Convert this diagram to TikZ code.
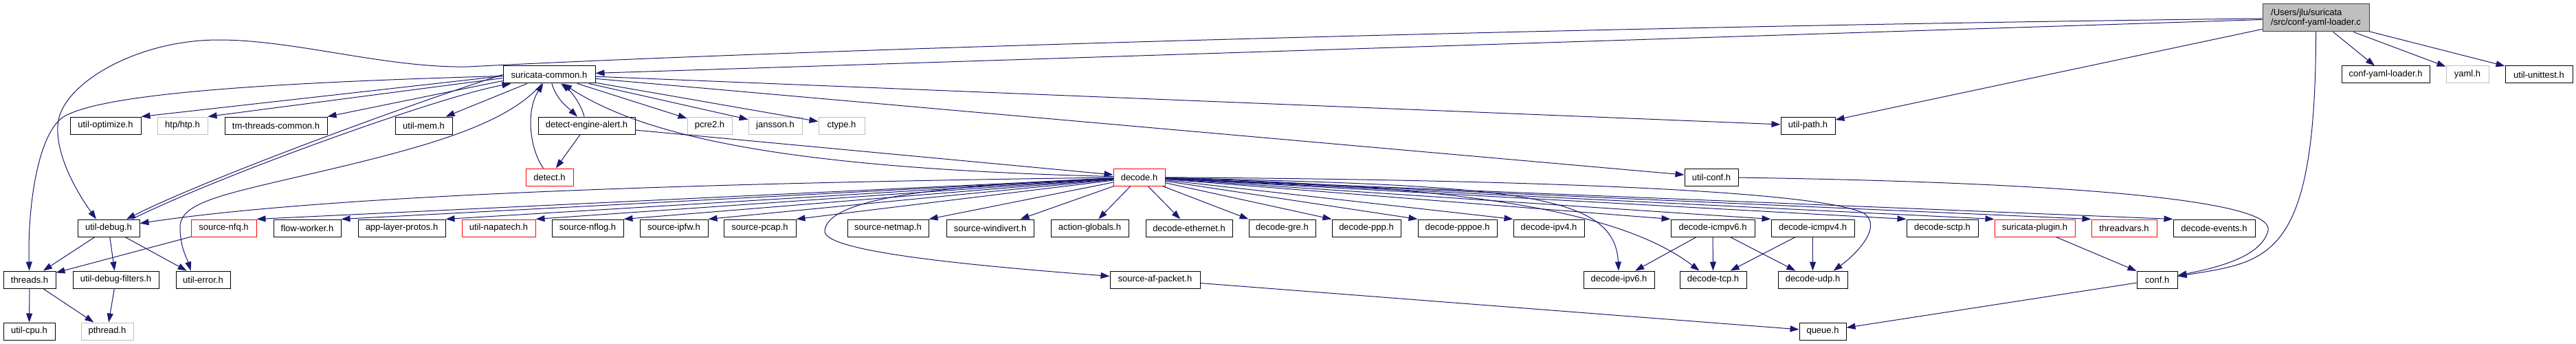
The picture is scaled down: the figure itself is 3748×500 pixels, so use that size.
\documentclass[tikz,border=0pt]{standalone}
\usepackage{fontspec}
\setmainfont{Liberation Sans}
\usetikzlibrary{arrows.meta}
\definecolor{edgec}{HTML}{191970}
\definecolor{grayb}{HTML}{BFBFBF}
\definecolor{nodeb}{HTML}{404040}
\begin{document}
\begin{tikzpicture}[x=1pt,y=-1pt,
 nd/.style={draw=black,line width=1pt,minimum height=25pt,inner sep=0pt,font=\fontsize{13}{15}\selectfont,fill=white},
 gnd/.style={nd,draw=grayb},
 rnd/.style={nd,draw=red},
 ed/.style={draw=edgec,line width=1pt,-{Triangle[length=13pt,width=9pt]}}]
\fill[white] (0,0) rectangle (3748,500);
\useasboundingbox (0,0) rectangle (3748,500);
% row 0
\node[nd,fill=grayb,draw=nodeb,minimum width=155pt,minimum height=40pt,align=left,font=\fontsize{13}{14}\selectfont] (root) at (3369.5,26) {/Users/jlu/suricata\\/src/conf-yaml-loader.c};
% row 0.5
\node[nd,minimum width=128pt] (cyl) at (3471,108.5) {conf-yaml-loader.h};
\node[gnd,minimum width=62pt] (yaml) at (3590,108.5) {yaml.h};
\node[nd,minimum width=98pt] (unit) at (3694,108.5) {util-unittest.h};
\node[nd,minimum width=134pt] (sc) at (799,108.5) {suricata-common.h};
% row 1
\node[nd,minimum width=103pt] (uopt) at (153.5,182.5) {util-optimize.h};
\node[gnd,minimum width=73pt] (htp) at (265.5,182.5) {htp/htp.h};
\node[nd,minimum width=149pt] (tmt) at (401.5,182.5) {tm-threads-common.h};
\node[nd,minimum width=83pt] (umem) at (616.5,182.5) {util-mem.h};
\node[nd,minimum width=141pt] (dea) at (853.5,182.5) {detect-engine-alert.h};
\node[gnd,minimum width=65pt] (pcre) at (1032.5,182.5) {pcre2.h};
\node[gnd,minimum width=78pt] (jans) at (1128,182.5) {jansson.h};
\node[gnd,minimum width=67pt] (ctype) at (1224.5,182.5) {ctype.h};
\node[nd,minimum width=79pt] (upath) at (2630.5,182.5) {util-path.h};
% row 2
\node[rnd,minimum width=69pt] (detect) at (799.5,257.5) {detect.h};
\node[rnd,minimum width=75pt] (decode) at (1657.5,257.5) {decode.h};
\node[nd,minimum width=78pt] (uconf) at (2490,257.5) {util-conf.h};
% row 3
\node[nd,minimum width=90pt] (udebug) at (158,331.5) {util-debug.h};
\node[rnd,minimum width=95pt] (nfq) at (325.5,331.5) {source-nfq.h};
\node[nd,minimum width=98pt] (fw) at (447,331.5) {flow-worker.h};
\node[nd,minimum width=127pt] (alp) at (584.5,331.5) {app-layer-protos.h};
\node[rnd,minimum width=107pt] (napa) at (725.5,331.5) {util-napatech.h};
\node[nd,minimum width=104pt] (nflog) at (855,331.5) {source-nflog.h};
\node[nd,minimum width=99pt] (ipfw) at (980.5,331.5) {source-ipfw.h};
\node[nd,minimum width=105pt] (pcap) at (1105.5,331.5) {source-pcap.h};
\node[nd,minimum width=118pt] (netmap) at (1292,331.5) {source-netmap.h};
\node[nd,minimum width=127pt] (windiv) at (1440.5,331.5) {source-windivert.h};
\node[nd,minimum width=113pt] (actg) at (1585.5,331.5) {action-globals.h};
\node[nd,minimum width=126pt] (eth) at (1730,331.5) {decode-ethernet.h};
\node[nd,minimum width=97pt] (gre) at (1865.5,331.5) {decode-gre.h};
\node[nd,minimum width=100pt] (ppp) at (1988,331.5) {decode-ppp.h};
\node[nd,minimum width=115pt] (pppoe) at (2120.5,331.5) {decode-pppoe.h};
\node[nd,minimum width=103pt] (ipv4) at (2253.5,331.5) {decode-ipv4.h};
\node[nd,minimum width=122pt] (icmp6) at (2492,331.5) {decode-icmpv6.h};
\node[nd,minimum width=121pt] (icmp4) at (2637.5,331.5) {decode-icmpv4.h};
\node[nd,minimum width=104pt] (sctp) at (2826,331.5) {decode-sctp.h};
\node[rnd,minimum width=117pt] (plugin) at (2960.5,331.5) {suricata-plugin.h};
\node[rnd,minimum width=95pt] (tv) at (3090.5,331.5) {threadvars.h};
\node[nd,minimum width=119pt] (events) at (3221.5,331.5) {decode-events.h};
% row 4
\node[nd,minimum width=76pt] (threads) at (43,406.5) {threads.h};
\node[nd,minimum width=125pt] (udf) at (168.5,406.5) {util-debug-filters.h};
\node[nd,minimum width=79pt] (uerr) at (295.5,406.5) {util-error.h};
\node[nd,minimum width=131pt] (afp) at (1680.5,406.5) {source-af-packet.h};
\node[nd,minimum width=103pt] (ipv6) at (2355.5,406.5) {decode-ipv6.h};
\node[nd,minimum width=97pt] (tcp) at (2492.5,406.5) {decode-tcp.h};
\node[nd,minimum width=101pt] (udp) at (2637.5,406.5) {decode-udp.h};
\node[nd,minimum width=59pt] (conf) at (3138.5,406.5) {conf.h};
% row 5
\node[nd,minimum width=75pt] (ucpu) at (42.5,481.5) {util-cpu.h};
\node[gnd,minimum width=76pt] (pthread) at (156,481.5) {pthread.h};
\node[nd,minimum width=68pt] (queue) at (2652,481.5) {queue.h};

% edges from root
\draw[ed] (root) -- (sc);
\draw[ed] (root) .. controls (2200,40) and (1100,75) .. (681,97) .. controls (560,99) and (430,58) .. (318,58) .. controls (200,58) and (95,120) .. (85,175) .. controls (78,215) and (105,270) .. ([xshift=-18pt]udebug.north);
\draw[ed] (root) -- (upath);
\draw[ed] (root) .. controls (3369.5,380) and (3300,380) .. (conf);
\draw[ed] (root) -- (cyl);
\draw[ed] (root) -- (yaml);
\draw[ed] (root) -- (unit);

% edges from suricata-common
\draw[ed] ([yshift=-2pt]sc.west) -- (uopt.north east);
\draw[ed] ([yshift=-5pt]sc.west) -- (htp.north east);
\draw[ed] ([yshift=-9pt]sc.west) -- (tmt.north east);
\draw[ed] (sc) -- (umem);
\draw[ed] (sc) -- (pcre);
\draw[ed] (sc) -- (jans);
\draw[ed] (sc) -- (ctype);
\draw[ed] (sc) -- (upath);
\draw[ed] (sc) -- (uconf);
\draw[ed] (sc) .. controls (810,145) and (825,155) .. (dea);
\draw[ed] (dea) .. controls (845,150) and (830,132) .. (sc);
\draw[ed] (sc) .. controls (400,120) and (150,135) .. (92,170) .. controls (55,195) and (40,300) .. (threads);
\draw[ed] (sc) .. controls (740,180) and (620,212) .. (506,240) .. controls (340,280) and (262,290) .. (262,330) .. controls (262,360) and (272,375) .. ([xshift=-18pt]uerr.north);
\draw[ed] (sc.west) .. controls (600,150) and (300,260) .. ([xshift=26pt]udebug.north);
\draw[ed] ([xshift=34pt]udebug.north) .. controls (320,255) and (640,140) .. ([xshift=12pt]sc.south west);

% detect cluster
\draw[ed] (dea) -- (detect);
\draw[ed] (dea) -- (decode);
\draw[ed] (detect) .. controls (770,215) and (765,160) .. (sc);

% edges from decode
\foreach \t in {nfq,fw,alp,napa,nflog,ipfw,pcap,netmap}
  \draw[ed] (decode) -- (\t.north east);
\draw[ed] (decode) -- ([xshift=-20pt]windiv.north east);
\draw[ed] (decode) -- (actg);
\draw[ed] (decode) -- (eth);
\foreach \t in {gre,ppp,pppoe,ipv4,icmp6,icmp4,sctp,plugin,tv,events}
  \draw[ed] (decode) -- (\t.north west);
\draw[ed] (decode) .. controls (1100,265) and (500,280) .. (udebug);
\draw[ed] (decode) .. controls (1150,245) and (940,200) .. (sc);
\draw[ed] (decode) .. controls (1350,270) and (1205,290) .. (1200,335) .. controls (1195,365) and (1400,385) .. (afp);
\draw[ed] (decode) .. controls (2200,270) and (2350,280) .. (ipv6);
\draw[ed] (decode) .. controls (2100,270) and (2350,300) .. ([xshift=-20pt]tcp.north);
\draw[ed] (decode) .. controls (2300,262) and (2650,280) .. (2712,310) .. controls (2740,330) and (2700,370) .. ([xshift=30pt]udp.north);

% lower edges
\draw[ed] (uconf) .. controls (3000,265) and (3310,290) .. (3300,335) .. controls (3290,375) and (3220,390) .. (conf);
\draw[ed] (plugin) -- (conf);
\draw[ed] (conf) -- (queue);
\draw[ed] (afp) -- (queue);
\draw[ed] (icmp6) -- (ipv6);
\draw[ed] (icmp6) -- (tcp);
\draw[ed] (icmp6) -- (udp);
\draw[ed] (icmp4) -- (tcp);
\draw[ed] (icmp4) -- (udp);
\draw[ed] (udebug) -- (threads);
\draw[ed] (udebug) -- (udf);
\draw[ed] (udebug) -- (uerr);
\draw[ed] (nfq) -- (threads);
\draw[ed] (threads) -- (ucpu);
\draw[ed] (threads) -- (pthread);
\draw[ed] (udf) -- (pthread);
\end{tikzpicture}
\end{document}
